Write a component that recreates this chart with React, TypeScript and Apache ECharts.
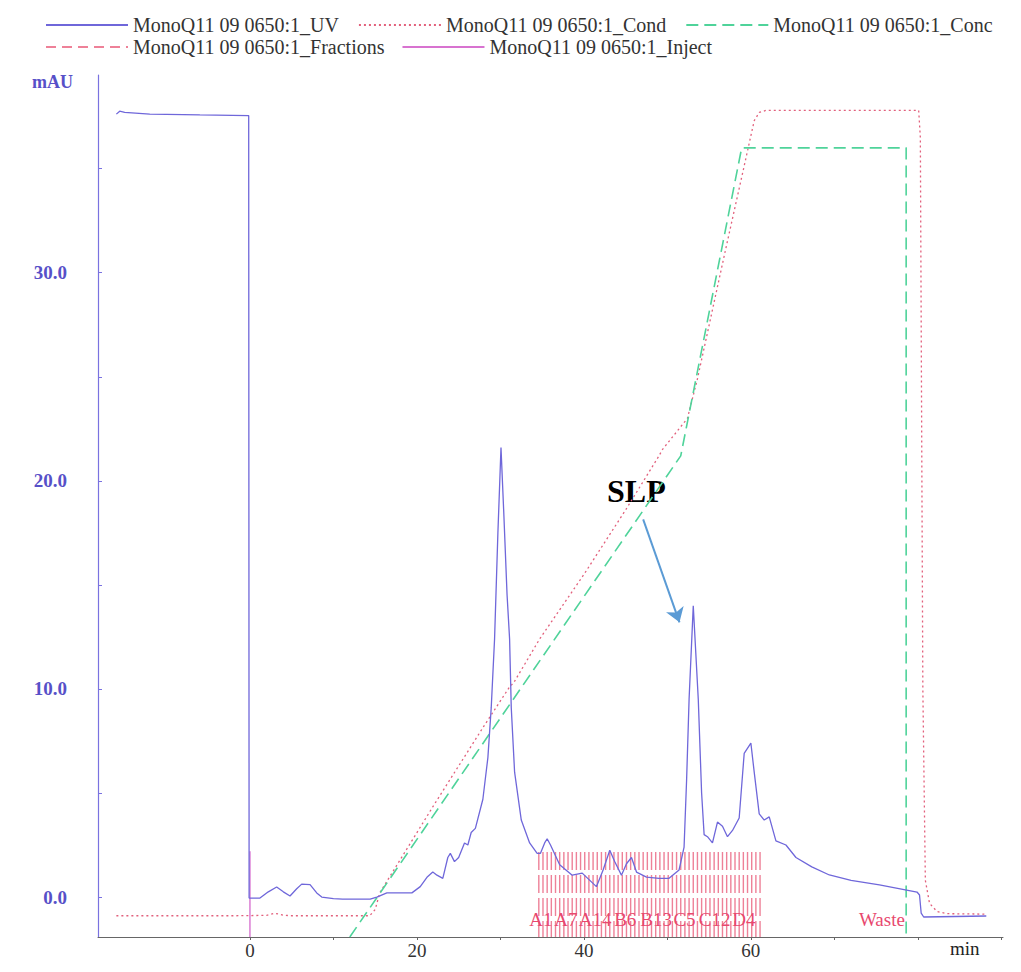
import React, { useEffect, useRef } from "react";
import * as echarts from "echarts";

const SERIF = "Liberation Serif, Times New Roman, serif";

const NAME_UV = "MonoQ11 09 0650:1_UV";
const NAME_COND = "MonoQ11 09 0650:1_Cond";
const NAME_CONC = "MonoQ11 09 0650:1_Conc";
const NAME_FRAC = "MonoQ11 09 0650:1_Fractions";
const NAME_INJ = "MonoQ11 09 0650:1_Inject";

// UV trace [min, mAU]
const uvData: number[][] = [
  [-16.0, 37.62], [-15.6, 37.76], [-15.0, 37.7], [-12.0, 37.62], [-6.0, 37.58], [-0.15, 37.55],
  [-0.1, -0.05], [1.2, -0.05], [2.2, 0.25], [3.2, 0.48], [4.0, 0.25], [4.8, 0.05], [5.6, 0.4],
  [6.2, 0.62], [7.2, 0.6], [8.0, 0.2], [8.6, 0.0], [10.0, -0.08], [11.1, -0.1], [14.4, -0.1],
  [15.2, 0.0], [16.4, 0.2], [19.4, 0.2], [20.4, 0.5], [21.2, 0.95], [21.9, 1.2], [22.4, 1.05],
  [23.1, 0.9], [23.7, 1.9], [24.0, 2.1], [24.5, 1.7], [25.0, 1.9], [25.7, 2.6], [26.1, 2.5],
  [26.5, 3.1], [27.0, 3.3], [27.9, 4.7], [28.5, 6.7], [28.9, 9.1], [29.3, 12.4], [29.7, 17.5],
  [30.07, 21.6], [30.4, 18.5], [30.8, 14.5], [31.1, 12.4], [31.3, 9.1], [31.7, 6.0], [32.5, 3.7],
  [33.5, 2.6], [34.4, 2.1], [34.8, 2.1], [35.3, 2.6], [35.6, 2.8], [36.0, 2.5], [37.1, 1.55],
  [38.6, 1.05], [39.8, 1.15], [41.5, 0.5], [42.3, 1.3], [43.1, 2.25], [43.7, 1.7], [44.5, 1.05],
  [45.1, 1.6], [45.7, 1.9], [46.3, 1.2], [47.5, 0.96], [49.0, 0.9], [50.2, 0.9], [51.4, 1.3],
  [52.0, 2.4], [52.3, 5.6], [52.6, 9.5], [53.1, 14.0], [53.7, 9.5], [54.1, 5.0], [54.4, 3.0],
  [54.8, 2.9], [55.4, 2.6], [56.0, 3.6], [56.6, 3.4], [57.2, 2.9], [57.8, 3.2], [58.6, 3.8],
  [59.2, 6.9], [60.0, 7.4], [60.4, 6.0], [61.0, 4.0], [61.6, 3.7], [62.2, 3.85], [63.0, 2.7],
  [64.2, 2.5], [65.4, 1.9], [67.3, 1.45], [69.4, 1.06], [72.0, 0.8], [75.4, 0.58], [79.9, 0.24],
  [80.2, 0.1], [80.4, -0.77], [80.7, -0.96], [88.2, -0.91],
];

// Conductivity trace (plotted on the same scale)
const condData: number[][] = [
  [-16.0, -0.9], [-2.0, -0.9], [2.0, -0.88], [3.0, -0.78], [4.0, -0.87], [5.0, -0.9],
  [14.35, -0.9], [15.0, -0.6], [15.55, 0.2], [22.0, 4.4], [28.0, 8.2], [31.1, 10.1],
  [31.6, 10.3], [34.7, 12.4], [40.0, 15.5], [45.0, 18.6], [49.0, 21.2], [49.4, 21.5],
  [52.4, 23.0], [53.6, 24.9], [56.8, 30.8], [60.4, 37.3], [61.0, 37.7], [61.8, 37.8],
  [80.1, 37.8], [80.3, 36.5], [80.6, 10.0], [80.9, 0.8], [81.4, -0.3], [82.3, -0.7],
  [83.5, -0.8], [88.2, -0.82],
];

// Concentration (gradient) trace
const concData: number[][] = [
  [11.96, -1.92], [51.6, 21.2], [58.9, 36.0], [78.6, 36.0], [78.6, -1.92],
];

// Injection mark
const injectData: number[][] = [[0, -1.92], [0, 2.2]];

// Fraction marks (min)
const fractionMarks: number[] = [
  34.6, 35.1, 35.6, 36.1, 36.6, 37.1, 37.6, 38.1, 38.6, 39.1, 39.6, 40.1, 40.6, 41.1,
  41.6, 42.1, 42.6, 43.1, 43.6, 44.1, 44.6, 45.1, 45.6, 46.1, 46.6, 47.1, 47.6, 48.1,
  48.6, 49.1, 49.6, 50.1, 50.6, 51.1, 51.6, 52.1, 52.6, 53.1, 53.6, 54.1, 54.6, 55.1,
  55.6, 56.1, 56.6, 57.1, 57.6, 58.1, 58.6, 59.1, 59.6, 60.1, 60.6, 61.1,
];
const fractionLabelTimes: number[] = [34.85, 37.85, 41.35, 44.95, 48.65, 52.05, 55.65, 59.15];
const fractionLabelNames: string[] = ["A1", "A7", "A14", "B6", "B13", "C5", "C12", "D4"];
const wasteLabelTime = 78.45;
const wasteLabel = "Waste";

const xTicks = [0, 10, 20, 30, 40, 50, 60, 70, 80, 90];
const xLabels = [0, 20, 40, 60];
const yTicks = [0, 5, 10, 15, 20, 25, 30, 35];
const yLabels = [0, 10, 20, 30];

const slpArrow = [[47.1, 18.15], [51.45, 13.2]];

const C_UV = "#6f67da";
const C_COND = "#e2607c";
const C_CONC = "#4fd39a";
const C_FRAC = "#ee8198";
const C_INJ = "#d873d0";
const C_AXISY = "#7a72e0";
const C_LABELY = "#5750c8";

export default function App() {
  const ref = useRef<HTMLDivElement>(null);
  useEffect(() => {
    if (!ref.current) return;
    const chart = echarts.init(ref.current, null, { renderer: "svg" });
    const labelItems = fractionLabelTimes.map((t) => [t, -1.06]);
    labelItems.push([wasteLabelTime, -1.06]);
    const labelTexts = [...fractionLabelNames, wasteLabel];

    const legendBase = {
      left: 40,
      itemWidth: 82,
      itemHeight: 14,
      selectedMode: false,
      itemStyle: { opacity: 0, borderWidth: 0 },
      textStyle: { fontFamily: SERIF, fontSize: 20, color: "#333" },
    };

    chart.setOption({
      animation: false,
      backgroundColor: "#ffffff",
      grid: { left: 98, right: 18, top: 75, bottom: 35, containLabel: false },
      legend: [
        { ...legendBase, top: 10, itemGap: 19, data: [NAME_UV, NAME_COND, NAME_CONC] },
        { ...legendBase, top: 32, itemGap: 17, data: [NAME_FRAC, NAME_INJ] },
      ],
      xAxis: {
        type: "value",
        min: -18.2,
        max: 90.2,
        splitLine: { show: false },
        axisLine: { show: true, onZero: false, lineStyle: { color: "#666", width: 1 } },
        axisTick: { show: true, length: 3, customValues: xTicks, lineStyle: { color: "#666" } },
        axisLabel: {
          customValues: xLabels,
          color: "#333",
          fontFamily: SERIF,
          fontSize: 19,
          margin: 4,
        },
      },
      yAxis: {
        type: "value",
        min: -1.92,
        max: 39.5,
        splitLine: { show: false },
        axisLine: { show: true, onZero: false, lineStyle: { color: C_AXISY, width: 1.2 } },
        axisTick: { show: true, inside: true, length: 4, customValues: yTicks, lineStyle: { color: C_AXISY } },
        axisLabel: {
          customValues: yLabels,
          formatter: (v: number) => v.toFixed(1),
          color: C_LABELY,
          fontFamily: SERIF,
          fontSize: 19,
          fontWeight: "bold",
          margin: 31,
        },
      },
      graphic: [
        {
          type: "text",
          left: 32,
          top: 73,
          style: { text: "mAU", fill: C_LABELY, font: `bold 18px ${SERIF}` },
        },
        {
          type: "text",
          left: 950,
          top: 939,
          style: { text: "min", fill: "#222", font: `19px ${SERIF}` },
        },
        {
          type: "text",
          left: 607,
          top: 475,
          style: { text: "SLP", fill: "#000", font: `bold 32px ${SERIF}` },
        },
      ],
      series: [
        {
          name: "fractionMarks",
          type: "custom",
          coordinateSystem: "cartesian2d",
          clip: false,
          encode: { x: 0, y: 1 },
          data: fractionMarks.map((t) => [t, 0]),
          renderItem: (params: any, api: any) => {
            const t = api.value(0);
            const top = api.coord([t, 2.16]);
            const bot = api.coord([t, -1.92]);
            return {
              type: "line",
              shape: { x1: top[0], y1: top[1], x2: bot[0], y2: bot[1] },
              style: { stroke: C_FRAC, lineWidth: 1.4, lineDash: [18, 5] },
            };
          },
          z: 1,
        },
        {
          name: "fractionLabels",
          type: "custom",
          coordinateSystem: "cartesian2d",
          clip: false,
          encode: { x: 0, y: 1 },
          data: labelItems,
          renderItem: (params: any, api: any) => {
            const p = api.coord([api.value(0), api.value(1)]);
            const i = params.dataIndex;
            const isWaste = i === labelTexts.length - 1;
            return {
              type: "text",
              x: p[0],
              y: p[1],
              style: {
                text: labelTexts[i],
                fill: "#e8486e",
                font: `19px ${SERIF}`,
                align: isWaste ? "right" : "center",
                verticalAlign: "middle",
              },
            };
          },
          z: 2,
        },
        {
          name: NAME_FRAC,
          type: "line",
          data: [],
          symbol: "none",
          lineStyle: { color: C_FRAC, width: 1.4, type: [10, 6] },
          itemStyle: { color: C_FRAC },
        },
        {
          name: NAME_COND,
          type: "line",
          data: condData,
          symbol: "none",
          lineStyle: { color: C_COND, width: 1.3, type: [2, 3] },
          itemStyle: { color: C_COND },
          z: 3,
        },
        {
          name: NAME_CONC,
          type: "line",
          data: concData,
          symbol: "none",
          lineStyle: { color: C_CONC, width: 1.6, type: [12, 6] },
          itemStyle: { color: C_CONC },
          z: 3,
        },
        {
          name: NAME_INJ,
          type: "line",
          data: injectData,
          symbol: "none",
          lineStyle: { color: C_INJ, width: 1.4 },
          itemStyle: { color: C_INJ },
          z: 3,
        },
        {
          name: NAME_UV,
          type: "line",
          data: uvData,
          symbol: "none",
          lineStyle: { color: C_UV, width: 1.3 },
          itemStyle: { color: C_UV },
          z: 4,
          markLine: {
            silent: true,
            symbol: ["none", "arrow"],
            symbolSize: 14,
            label: { show: false },
            lineStyle: { color: "#5b9bd5", width: 2, type: "solid" },
            data: [[{ coord: slpArrow[0] }, { coord: slpArrow[1] }]],
          },
        },
      ],
    });
    return () => chart.dispose();
  }, []);
  return (
    <div
      ref={ref}
      style={{ position: "absolute", left: 0, top: 0, width: 1021, height: 972, background: "#fff" }}
    />
  );
}
